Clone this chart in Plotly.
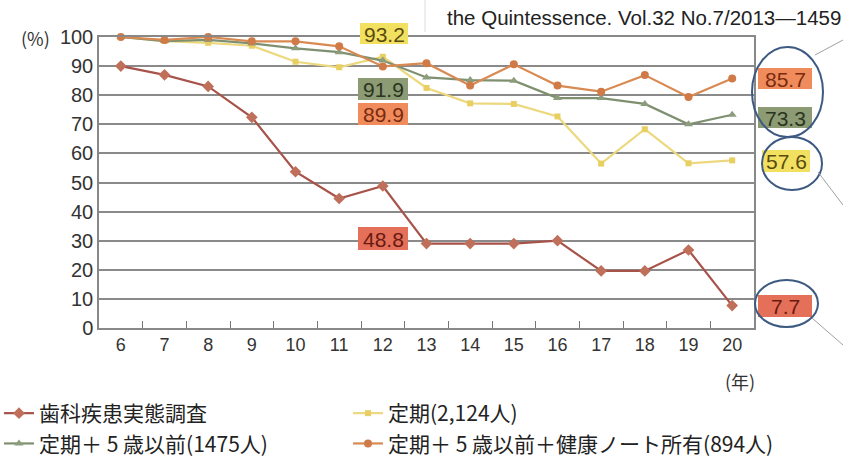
import plotly.graph_objects as go

ages = [str(a) for a in range(6, 21)]
survey = [90, 87, 83, 72.4, 53.7, 44.5, 48.8, 29, 29, 29, 30, 19.6, 19.6, 26.8, 7.7]
regular = [100, 98.6, 98, 97, 91.5, 89.6, 93.2, 82.5, 77.2, 77, 72.7, 56.5, 68.3, 56.6, 57.6]
regular5 = [100, 98.6, 99, 97.8, 96.1, 94.8, 91.9, 86.1, 85.2, 85, 79, 79, 77, 70, 73.3]
note = [100, 99, 100, 98.5, 98.5, 96.8, 89.9, 91, 83.3, 90.6, 83.3, 81.2, 86.9, 79.4, 85.7]

names = ["歯科疾患実態調査", "定期(2,124人)", "定期＋ 5 歳以前(1475人)", "定期＋ 5 歳以前＋健康ノート所有(894人)"]
series = [survey, regular, regular5, note]
line_colors = ["#a8534a", "#ecd87e", "#7f9070", "#d98a52"]
marker_colors = ["#c0705a", "#e8cf62", "#8c9c7c", "#d07a48"]
symbols = ["diamond", "square", "triangle-up", "circle"]
sizes = [9, 6, 8, 8]
legend_ids = ["legend", "legend2", "legend", "legend2"]

FONT = "Noto Sans CJK JP"
NUMFONT = "Liberation Sans"

fig = go.Figure()
for i, (name, vals, lc, mc, sym, sz, lg) in enumerate(zip(names, series, line_colors, marker_colors, symbols, sizes, legend_ids)):
    fig.add_trace(go.Scatter(
        x=ages, y=vals, name=name, mode="lines+markers",
        line=dict(color=lc, width=2.2),
        marker=dict(symbol=sym, size=sz, color=mc),
        cliponaxis=False, legend=lg, legendgroup="g%d" % i,
    ))

# pixel helpers for decorations
L, R, T, B = 99, 754, 37, 328
def px(x):
    return (x - L) / (R - L)
def py(y):
    return (B - y) / (B - T)

annotations = []
shapes = []

# value label boxes (text, box x0, y0, x1, y1 in pixels, bg, text colour)
value_labels = [
    ("93.2", 360, 23, 408, 44, "#f2e160", "#5a4a10"),
    ("91.9", 358, 78, 408, 100, "#8c9b74", "#2a3420"),
    ("89.9", 358, 103, 408, 125, "#f08c5c", "#7a2a10"),
    ("48.8", 358, 227, 408, 250, "#e4705a", "#6a1a10"),
    ("85.7", 758, 68, 812, 89, "#f08c5c", "#7a2a10"),
    ("73.3", 758, 107, 812, 128, "#8c9b74", "#2a3420"),
    ("57.6", 762, 150, 810, 172, "#f2e160", "#5a4a10"),
    ("7.7", 758, 295, 812, 317, "#e4705a", "#6a1a10"),
]
for txt, x0, y0, x1, y1, bg, fc in value_labels:
    shapes.append(dict(type="rect", xref="paper", yref="paper", x0=px(x0), x1=px(x1),
                       y0=py(y1), y1=py(y0), fillcolor=bg, line=dict(width=0), layer="above"))
    annotations.append(dict(x=px((x0 + x1) / 2), y=py((y0 + y1) / 2 + 0.5), xref="paper", yref="paper",
                            text=txt, showarrow=False, xanchor="center", yanchor="middle",
                            font=dict(size=21, color=fc, family=NUMFONT)))

annotations += [
    dict(x=px(52), y=py(38), xref="paper", yref="paper", text="(%)", showarrow=False,
         xanchor="right", yanchor="middle", font=dict(size=18, color="#333", family=FONT)),
    dict(x=px(757), y=py(381), xref="paper", yref="paper", text="(年)", showarrow=False,
         xanchor="right", yanchor="middle", font=dict(size=18, color="#333", family=FONT)),
    dict(x=px(843), y=py(17), xref="paper", yref="paper", text="the Quintessence. Vol.32 No.7/2013—1459",
         showarrow=False, xanchor="right", yanchor="middle", font=dict(size=20.5, color="#222", family=NUMFONT)),
]

ell = "#3d5a82"
for x0, y0, x1, y1 in [(752, 47, 823, 137), (762, 137, 822, 190), (755, 280, 818, 327)]:
    shapes.append(dict(type="circle", xref="paper", yref="paper", x0=px(x0), x1=px(x1),
                       y0=py(y1), y1=py(y0), line=dict(color=ell, width=2), layer="above"))
for x0, y0, x1, y1, c in [(815, 55, 843, 40, "#a0a0a0"), (818, 172, 843, 205, "#a0a0a0"),
                          (812, 318, 843, 345, "#a0a0a0"), (425, 0, 425, 32, "#dcdcdc")]:
    shapes.append(dict(type="line", xref="paper", yref="paper", x0=px(x0), x1=px(x1),
                       y0=py(y0), y1=py(y1), line=dict(color=c, width=1)))

legend_common = dict(orientation="v", yanchor="top", xanchor="left", itemwidth=30,
                     font=dict(size=21, color="#222", family=FONT), traceorder="grouped",
                     tracegroupgap=0, bgcolor="rgba(0,0,0,0)")

fig.update_layout(
    width=843, height=459,
    margin=dict(l=L, r=843 - R, t=T, b=459 - B, autoexpand=False),
    paper_bgcolor="white", plot_bgcolor="white",
    font=dict(family=FONT, color="#333"),
    showlegend=True,
    legend=dict(x=px(-1), y=py(393), **legend_common),
    legend2=dict(x=px(348), y=py(393), **legend_common),
    xaxis=dict(type="category", range=[-0.5, 14.5], tickson="boundaries", ticks="inside",
               ticklen=7, tickcolor="#777", tickwidth=1.2, showgrid=False,
               showline=True, linecolor="#888", linewidth=1.5, mirror=True,
               tickfont=dict(size=18, color="#333", family=NUMFONT), zeroline=False),
    yaxis=dict(range=[0, 100], dtick=10, showgrid=True, gridcolor="#8a8a8a", gridwidth=1.5,
               showline=True, linecolor="#888", linewidth=1.5, mirror=True, ticks="",
               tickfont=dict(size=20, color="#333", family=NUMFONT), zeroline=False),
    annotations=annotations, shapes=shapes,
)

fig.write_html("out.html", config={"displayModeBar": False},
               post_script="document.body.style.margin='0';document.body.style.overflow='hidden';")
